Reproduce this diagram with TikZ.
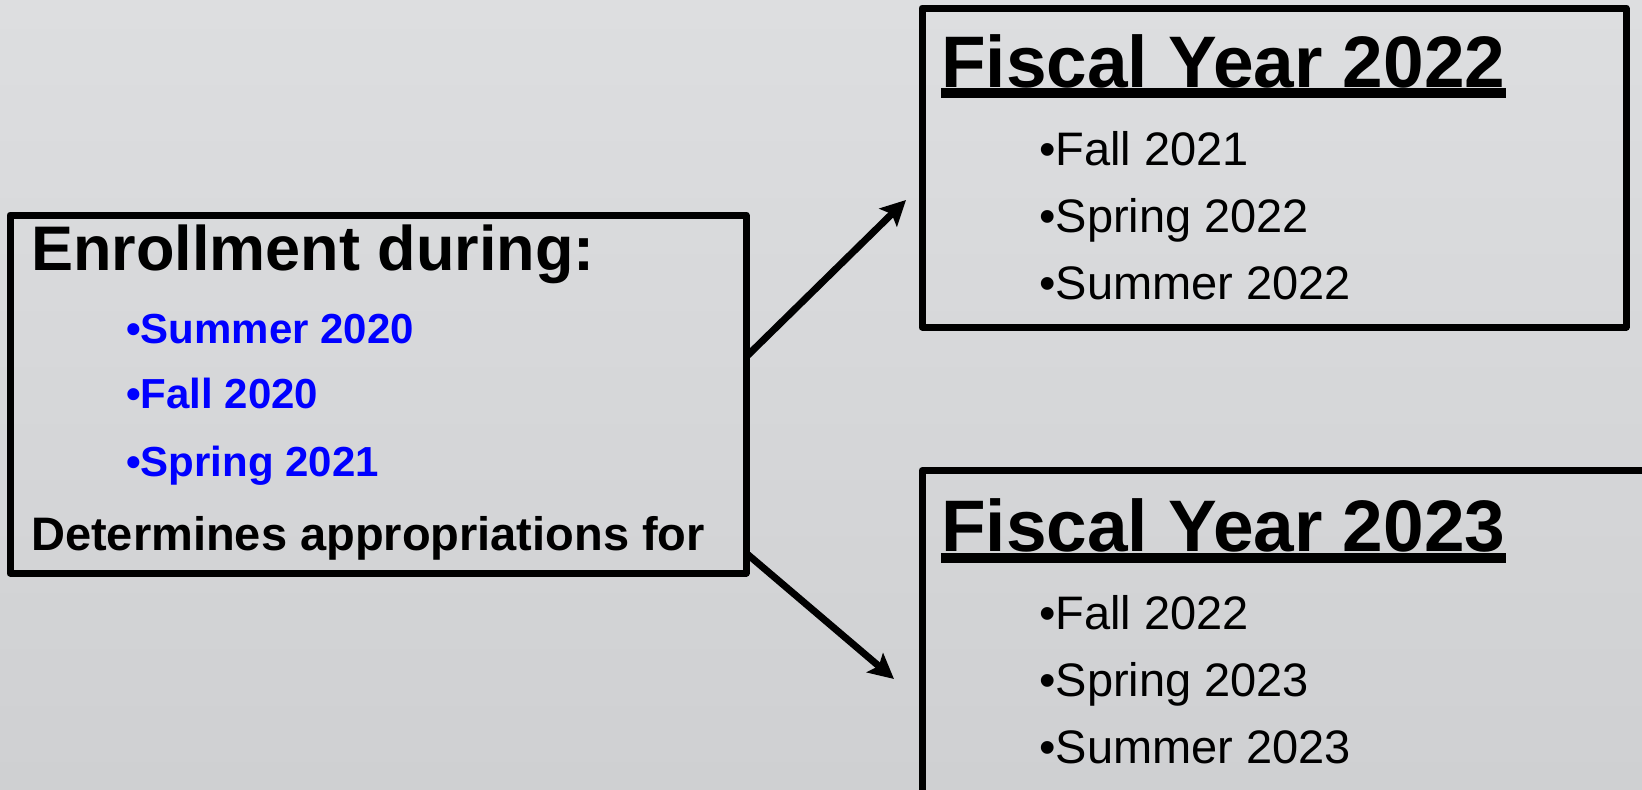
\documentclass[tikz,border=0pt]{standalone}
\usepackage{fontspec}
\setmainfont{Liberation Sans}
\usepackage{tikz}
\usetikzlibrary{arrows.meta, positioning, calc}

\definecolor{bgtop}{RGB}{221,222,224}
\definecolor{bgbottom}{RGB}{207,208,210}
\definecolor{termblue}{RGB}{0,0,255}

\begin{document}
\begin{tikzpicture}[x=1pt, y=1pt,
    box/.style={draw, line width=7pt, line join=round, inner sep=0pt, outer sep=0pt, anchor=north west},
    heading/.style={inner sep=0pt, anchor=base west, font=\fontsize{73}{80}\selectfont\bfseries},
    term/.style={inner sep=0pt, font=\fontsize{47}{54}\selectfont},
    oldterm/.style={inner sep=0pt, text=termblue, font=\fontsize{42}{48}\selectfont\bfseries},
    uline/.style={line width=10pt},
    arrow/.style={line width=7pt, -{Stealth[length=25pt, width=25pt, inset=5pt]}}]

    \useasboundingbox (0,0) rectangle (1642,-790);
    \clip (0,0) rectangle (1642,-790);
    \fill[top color=bgtop, bottom color=bgbottom] (0,0) rectangle (1642,-790);

    % enrollment box
    \node[box, minimum width=736pt, minimum height=358pt] (enroll) at (10,-215) {};
    \node[inner sep=0pt, anchor=base west, font=\fontsize{63}{70}\selectfont\bfseries] (during) at (31,-270) {Enrollment during:};
    \node[oldterm, below=73.5pt of during.base west, xshift=95pt, anchor=base west] (sum20) {•Summer 2020};
    \node[oldterm, below=65pt of sum20.base west, anchor=base west] (fall20) {•Fall 2020};
    \node[oldterm, below=68pt of fall20.base west, anchor=base west] (spr21) {•Spring 2021};
    \node[inner sep=0pt, anchor=base west, font=\fontsize{47}{54}\selectfont\bfseries] (determ) at (31,-550) {Determines appropriations for};

    % fiscal year 2022
    \node[box, minimum width=704pt, minimum height=319pt] (fy22) at (922,-8) {};
    \node[heading] (fy22title) at (941,-87) {Fiscal Year 2022};
    \draw[uline] ([yshift=-6pt]fy22title.base west) -- ([yshift=-6pt]fy22title.base east);
    \node[term, below=78.5pt of fy22title.base west, xshift=98pt, anchor=base west] (fall21) {•Fall 2021};
    \node[term, below=67pt of fall21.base west, anchor=base west] (spr22) {•Spring 2022};
    \node[term, below=67pt of spr22.base west, anchor=base west] (sum22) {•Summer 2022};

    % fiscal year 2023
    \node[box, minimum width=760pt, minimum height=330pt] (fy23) at (922,-470.5) {};
    \node[heading] (fy23title) at (941,-551.5) {Fiscal Year 2023};
    \draw[uline] ([yshift=-6pt]fy23title.base west) -- ([yshift=-6pt]fy23title.base east);
    \node[term, below=78pt of fy23title.base west, xshift=98pt, anchor=base west] (fall22) {•Fall 2022};
    \node[term, below=67pt of fall22.base west, anchor=base west] (spr23) {•Spring 2023};
    \node[term, below=67pt of spr23.base west, anchor=base west] (sum23) {•Summer 2023};

    \coordinate (upend) at (906,-200);
    \coordinate (downend) at (894,-679);
    \draw[arrow] ($(enroll.north east)+(0,-142)$) -- (upend);
    \draw[arrow] ($(enroll.north east)+(0,-338)$) -- (downend);
\end{tikzpicture}
\end{document}
